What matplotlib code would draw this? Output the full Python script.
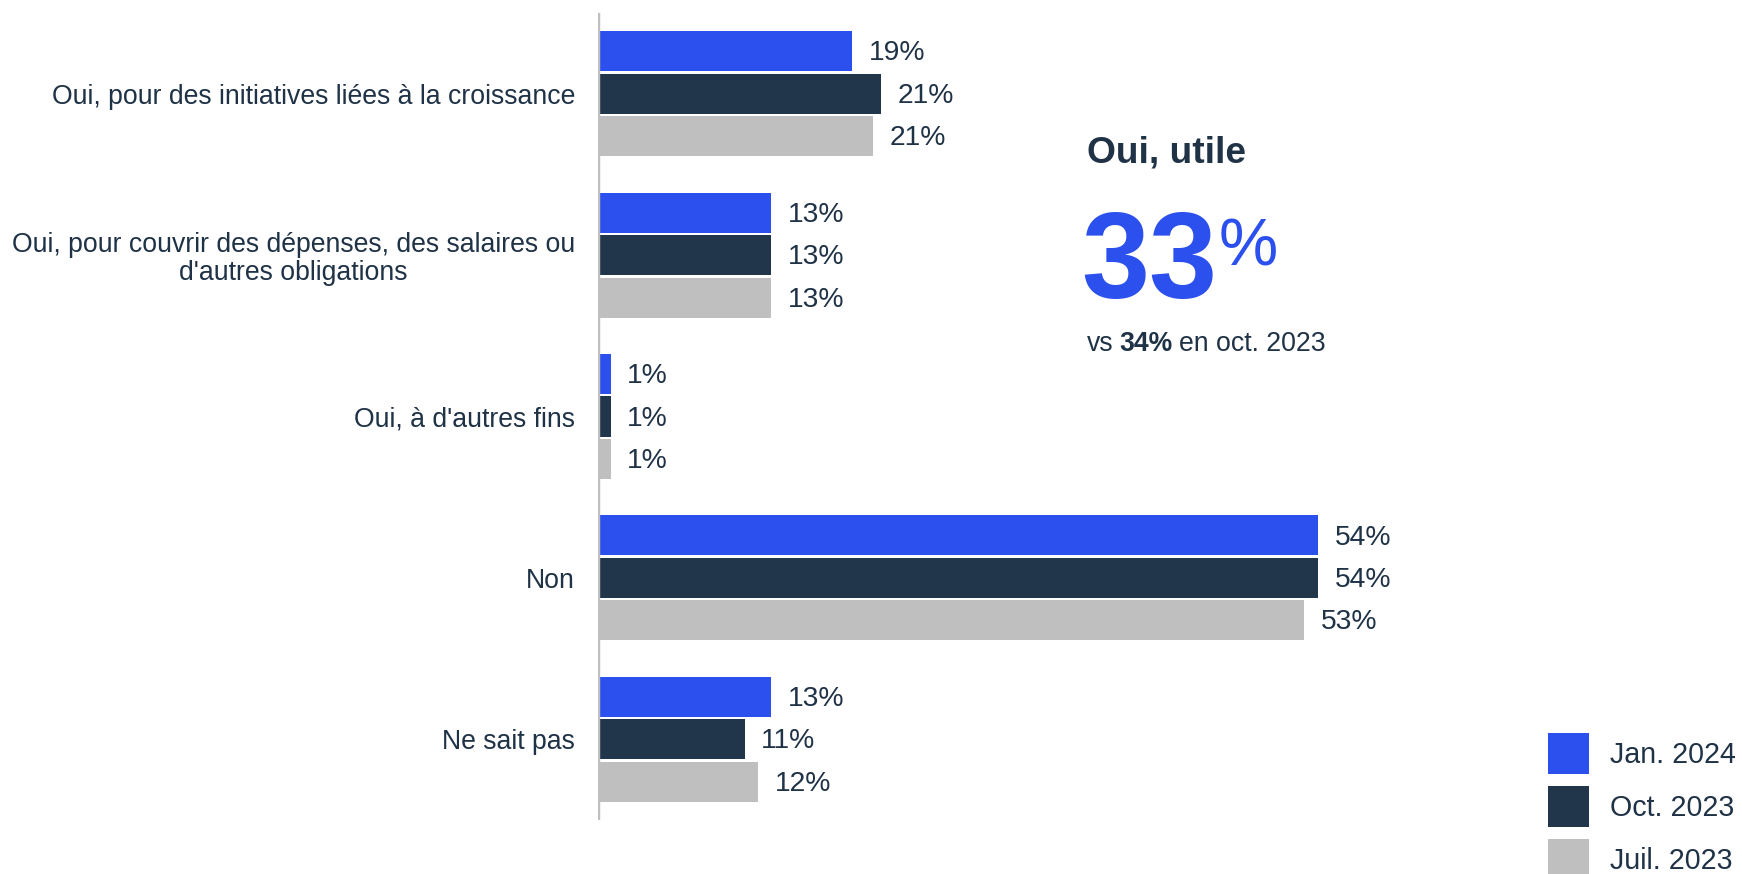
import matplotlib
matplotlib.use("Agg")
import matplotlib.pyplot as plt
import numpy as np

plt.rcParams['font.family'] = ['Liberation Sans', 'DejaVu Sans']

categories = [
    "Oui, pour des initiatives liées à la croissance",
    "Oui, pour couvrir des dépenses, des salaires ou\nd'autres obligations",
    "Oui, à d'autres fins",
    "Non",
    "Ne sait pas",
]
series_names = ["Jan. 2024", "Oct. 2023", "Juil. 2023"]
jan_2024 = [19.0, 12.9, 0.8, 54.1, 12.9]
oct_2023 = [21.2, 12.9, 0.8, 54.1, 10.9]
jul_2023 = [20.6, 12.9, 0.8, 53.1, 11.9]
labels_jan = ["19%", "13%", "1%", "54%", "13%"]
labels_oct = ["21%", "13%", "1%", "54%", "11%"]
labels_jul = ["21%", "13%", "1%", "53%", "12%"]

colors = ["#2c50ee", "#21364b", "#bfbfbf"]
text_color = "#1f3246"

W, H = 1742, 874
fig = plt.figure(figsize=(W / 100, H / 100), dpi=100)

# axes in pixel geometry
ax_left, ax_top, ax_bottom = 598, 13, 820
px_per_pct = 13.3
xmax = 60
ax = fig.add_axes([ax_left / W, 1 - ax_bottom / H, xmax * px_per_pct / W, (ax_bottom - ax_top) / H])

y = np.arange(len(categories))
offset = 0.263
height = 0.248
series = [jan_2024, oct_2023, jul_2023]
labels = [labels_jan, labels_oct, labels_jul]
for i, (vals, labs, col, name) in enumerate(zip(series, labels, colors, series_names)):
    pos = y + (i - 1) * offset
    ax.barh(pos, vals, height=height, color=col, label=name, left=0)
    for p, v, t in zip(pos, vals, labs):
        ax.annotate(t, xy=(v, p), xytext=(12, -1.5), textcoords='offset points',
                    va='center', ha='left', fontsize=20.3, color=text_color)

ax.set_xlim(-0.15, xmax)
ax.set_ylim(4.5, -0.5)
ax.axvline(-0.12, color="#bfbfbf", lw=3.2)
for s in ax.spines.values():
    s.set_visible(False)
ax.set_xticks([])
ax.set_yticks(y)
ax.set_yticklabels(categories, fontsize=19.2, color=text_color, multialignment='center',
                   linespacing=1.1)
ax.tick_params(axis='y', length=0, pad=16.5)

# right-hand callout
fig.text(1087 / W, 1 - 153 / H, "Oui, utile", fontsize=26.7, fontweight='bold',
         color="#1f3246", va='center', ha='left')
t33 = fig.text(1081 / W, 1 - 298 / H, "33", fontsize=88, fontweight='bold',
               color=colors[0], va='baseline', ha='left')
ax.annotate("%", xy=(1, 1), xycoords=t33, xytext=(1, -6), textcoords='offset points',
            fontsize=48, color=colors[0], va='top', ha='left', annotation_clip=False)
tvs = fig.text(1087 / W, 1 - 351 / H, "vs", fontsize=19.2, color=text_color,
               va='baseline', ha='left')
t34 = ax.annotate("34%", xy=(1, 0), xycoords=tvs, xytext=(4.3, 0), textcoords='offset points',
                  fontsize=19.2, fontweight='bold', color=text_color, va='bottom', ha='left',
                  annotation_clip=False)
ax.annotate("en oct. 2023", xy=(1, 0), xycoords=t34, xytext=(4.3, 0), textcoords='offset points',
            fontsize=19.2, color=text_color, va='bottom', ha='left', annotation_clip=False)

leg_fs = 20.6
fs_px = leg_fs * 100 / 72
hh = (41 / fs_px - 0.245) / 0.65
fig.legend(loc='upper left', bbox_to_anchor=(1548 / W, 1 - 733 / H), frameon=False,
           fontsize=leg_fs, handlelength=41 / fs_px, handleheight=hh,
           labelspacing=12 / fs_px, handletextpad=21 / fs_px, borderpad=0, borderaxespad=0,
           labelcolor=text_color)

fig.savefig("out.png", dpi=100)
